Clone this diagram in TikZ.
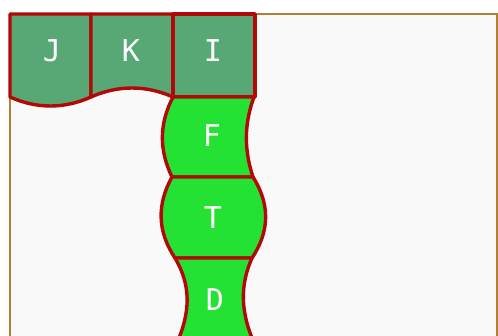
\documentclass[tikz,border=0pt]{standalone}
\usepackage{fontspec}
\newfontfamily\lblfont{DejaVu Sans Mono}
\definecolor{framec}{RGB}{176,128,48}
\definecolor{bgc}{RGB}{249,249,249}
\definecolor{topc}{RGB}{88,168,118}
\definecolor{colc}{RGB}{36,226,52}
\definecolor{edgec}{RGB}{178,8,8}
\tikzset{
  topcell/.style={fill=topc, draw=edgec, line width=3.4pt, line join=round},
  colcell/.style={fill=colc, draw=edgec, line width=3.4pt, line join=round},
  lbl/.style={text=white, font=\lblfont\fontsize{30}{32}\selectfont, inner sep=0pt}
}
\begin{document}
\begin{tikzpicture}[x=1pt,y=-1pt]
\useasboundingbox (0,0) rectangle (498,335);
\begin{scope}
\clip (0,0) rectangle (498,335);
\fill[white] (0,0) rectangle (498,335);
\draw[framec, line width=2.6pt, fill=bgc] (10,14) rectangle (497,420);
% top row
\draw[topcell] (10,14) -- (91,14) -- (91,97) .. controls (64,109) and (37,109) .. (10,97) -- cycle;
\draw[topcell] (91,14) -- (173,14) -- (173,97) .. controls (146,85) and (118,85) .. (91,97) -- cycle;
\draw[topcell] (173,14) rectangle (255,97);
% column
\draw[colcell] (173,97) -- (254,97) .. controls (244,124) and (244,150) .. (253,177)
  -- (172,177) .. controls (159,150) and (159,124) .. (173,97) -- cycle;
\draw[colcell] (172,177) -- (253,177) .. controls (270,204) and (270,231) .. (252,258)
  -- (175,258) .. controls (157,231) and (157,204) .. (172,177) -- cycle;
\draw[colcell] (175,258) -- (252,258) .. controls (240,285) and (240,312) .. (255,345)
  -- (176,345) .. controls (191,312) and (191,285) .. (175,258) -- cycle;
\end{scope}
\node[lbl] (J) at (52,51) {J};
\node[lbl] (K) at (131,51) {K};
\node[lbl] (I) at (213,51) {I};
\node[lbl] (F) at (212,136) {F};
\node[lbl] (T) at (213,218) {T};
\node[lbl] (D) at (215,300) {D};
\end{tikzpicture}
\end{document}
